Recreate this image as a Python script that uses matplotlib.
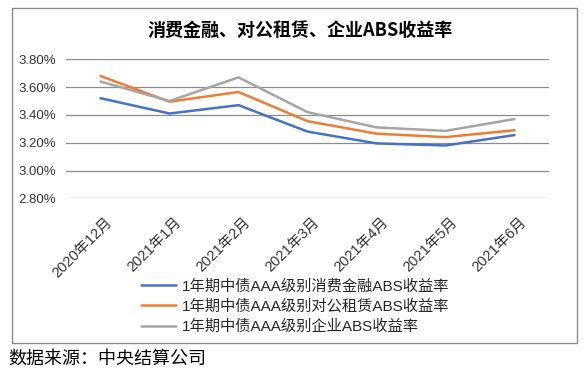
import matplotlib
matplotlib.use("Agg")
import matplotlib.pyplot as plt
from matplotlib.patches import Rectangle
from matplotlib.ticker import FuncFormatter
from matplotlib.transforms import ScaledTranslation

plt.rcParams["font.family"] = ["Liberation Sans", "Noto Sans CJK SC", "DejaVu Sans"]

# 数据
months = ["2020年12月", "2021年1月", "2021年2月", "2021年3月",
          "2021年4月", "2021年5月", "2021年6月"]
consumer = [3.52, 3.41, 3.47, 3.28, 3.195, 3.18, 3.255]
corporate_lease = [3.68, 3.495, 3.565, 3.355, 3.265, 3.24, 3.29]
enterprise = [3.64, 3.50, 3.67, 3.42, 3.31, 3.285, 3.37]

labels = ["1年期中债AAA级别消费金融ABS收益率",
          "1年期中债AAA级别对公租赁ABS收益率",
          "1年期中债AAA级别企业ABS收益率"]
colors = ["#4472C4", "#ED7D31", "#A5A5A5"]
yticks = [2.8, 3.0, 3.2, 3.4, 3.6, 3.8]

fig = plt.figure(figsize=(5.87, 3.80), dpi=100)
ax = fig.add_axes([66 / 587, 1 - 198.3 / 380, (549 - 66) / 587, (198.3 - 59.3) / 380])

x = list(range(len(months)))
for ys, lab, c in zip([consumer, corporate_lease, enterprise], labels, colors):
    ax.plot(x, ys, color=c, linewidth=1.8, label=lab, solid_capstyle="round")

ax.set_xlim(-0.5, len(months) - 0.5)
ax.set_ylim(2.8, 3.8)
ax.set_yticks(yticks)
ax.yaxis.set_major_formatter(FuncFormatter(lambda v, p: f"{v:.2f}%"))
ax.grid(axis="y", color="#8c8c8c", linewidth=0.9)
ax.set_axisbelow(True)
for s in ax.spines.values():
    s.set_visible(False)
ax.tick_params(axis="y", length=0, pad=7, labelsize=9.5, labelcolor="#333333")
ax.tick_params(axis="x", length=0, pad=12)
ax.set_xticks(x)
ax.set_xticklabels(months, rotation=45, ha="right", rotation_mode="anchor",
                   fontsize=10.5, color="#333333")
for t in ax.get_xticklabels():
    t.set_transform(t.get_transform() + ScaledTranslation(5 / 100, 0, fig.dpi_scale_trans))

# 图例
fig.legend(loc="upper left", bbox_to_anchor=(133 / 587, 1 - 271 / 380),
           frameon=False, fontsize=11, handlelength=2.3, handletextpad=0.4,
           labelspacing=0.38, borderpad=0, labelcolor="#262626")

# 标题
fig.text(300 / 587, 1 - 30 / 380, "消费金融、对公租赁、企业ABS收益率",
         ha="center", va="center", fontsize=13, fontweight="bold",
         family=["Noto Sans CJK SC"])

# 外框
fig.patches.append(Rectangle((12 / 587, 1 - 343 / 380), 565 / 587, 335 / 380,
                             transform=fig.transFigure, fill=False,
                             edgecolor="#8c8c8c", linewidth=1.0))

# 数据来源
fig.text(8 / 587, 1 - 359 / 380, "数据来源：中央结算公司",
         ha="left", va="center", fontsize=13, family=["Noto Sans CJK SC"])

fig.savefig("out.png", dpi=100)
